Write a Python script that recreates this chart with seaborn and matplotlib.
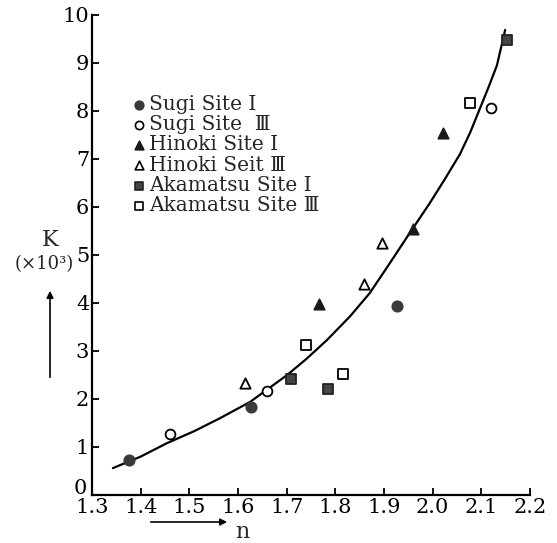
import matplotlib
matplotlib.use("Agg")
import matplotlib.pyplot as plt
import matplotlib.transforms as mtransforms
import seaborn as sns
import pandas as pd

# ---- data ----
sugi1_n = [1.375, 1.627, 1.927]
sugi1_k = [0.72, 1.83, 3.94]
sugi3_n = [1.460, 1.660, 2.120]
sugi3_k = [1.27, 2.17, 8.06]
hinoki1_n = [1.766, 1.960, 2.021]
hinoki1_k = [3.98, 5.54, 7.54]
hinoki3_n = [1.614, 1.859, 1.896]
hinoki3_k = [2.33, 4.40, 5.25]
aka1_n = [1.709, 1.785, 2.153]
aka1_k = [2.42, 2.21, 9.48]
aka3_n = [1.740, 1.815, 2.077]
aka3_k = [3.12, 2.52, 8.17]

curve_n = [1.343, 1.400, 1.454, 1.510, 1.563, 1.625, 1.701, 1.740, 1.783, 1.830,
           1.871, 1.910, 1.953, 1.994, 2.025, 2.056, 2.077, 2.097, 2.115, 2.132, 2.149]
curve_k = [0.56, 0.80, 1.08, 1.33, 1.60, 1.94, 2.50, 2.83, 3.23, 3.72,
           4.21, 4.80, 5.46, 6.08, 6.58, 7.10, 7.55, 8.05, 8.50, 8.95, 9.69]

labels = ["Sugi Site Ⅰ", "Sugi Site  Ⅲ", "Hinoki Site Ⅰ", "Hinoki Seit Ⅲ",
          "Akamatsu Site Ⅰ", "Akamatsu Site Ⅲ"]
x_ticks = [1.3, 1.4, 1.5, 1.6, 1.7, 1.8, 1.9, 2.0, 2.1, 2.2]
x_ticklabels = ["1.3", "1.4", "1.5", "1.6", "1.7", "1.8", "1.9", "2.0", "2.1", "2.2"]
y_ticks = list(range(0, 11))

sns.set_style("ticks")
fam = ["DejaVu Serif", "Noto Sans CJK JP"]
plt.rcParams["font.family"] = fam

fig = plt.figure(figsize=(5.57, 5.43), dpi=100)
ax = fig.add_axes([92 / 557, 48 / 543, 438 / 557, 480 / 543])

dark = "#3a3a3a"
series = [
    (sugi1_n, sugi1_k, "o", dark, dark, 55),
    (sugi3_n, sugi3_k, "o", "white", "black", 50),
    (hinoki1_n, hinoki1_k, "^", "#1a1a1a", "#1a1a1a", 55),
    (hinoki3_n, hinoki3_k, "^", "white", "black", 55),
    (aka1_n, aka1_k, "s", "#444444", "#222222", 55),
    (aka3_n, aka3_k, "s", "white", "black", 50),
]

curve_df = pd.DataFrame({"n": curve_n, "K": curve_k})
sns.lineplot(data=curve_df, x="n", y="K", sort=False, color="black", lw=1.6, ax=ax, zorder=2)

handles = []
for (xs, ys, m, fc, ec, s), lab in zip(series, labels):
    df = pd.DataFrame({"n": xs, "K": ys})
    sns.scatterplot(data=df, x="n", y="K", marker=m, s=s, color=fc, edgecolor=ec,
                    linewidth=1.3, ax=ax, zorder=3)
    h = ax.scatter([], [], marker=m, s=s * 0.7, facecolor=fc, edgecolor=ec, linewidth=1.2)
    handles.append(h)

ax.set_xlim(1.3, 2.2)
ax.set_ylim(0, 10)
ax.set_xticks(x_ticks)
ax.set_xticklabels(x_ticklabels)
ax.set_yticks(y_ticks)
ax.set_xlabel("")
ax.set_ylabel("")
sns.despine(ax=ax)
for sp in ["left", "bottom"]:
    ax.spines[sp].set_linewidth(1.6)
    ax.spines[sp].set_color("black")
ax.tick_params(direction="in", length=5, width=1.3, labelsize=15, colors="black", pad=2)
for t in ax.get_xticklabels() + ax.get_yticklabels():
    t.set_family(fam)
# nudge the "0" y tick label up-left so it sits above the 1.3 label, as in the reference
zero_lab = ax.get_yticklabels()[0]
zero_lab.set_transform(zero_lab.get_transform() +
                       mtransforms.ScaledTranslation(-2 / 100, 8 / 100, fig.dpi_scale_trans))

leg = ax.legend(handles, labels, loc="upper left", bbox_to_anchor=(0.065, 0.85),
                frameon=False, handletextpad=0.0, labelspacing=0.06,
                handlelength=1.0, borderaxespad=0, prop={"family": fam, "size": 14.5})

# axis labels with arrows
fig.text(50 / 557, 1 - 240 / 543, "K", ha="center", va="center", fontsize=16, family=fam)
fig.text(44 / 557, 1 - 264 / 543, "(×10³)", ha="center", va="center", fontsize=13, family=fam)
fig.patches.append(matplotlib.patches.FancyArrowPatch(
    (50 / 557, 1 - 380 / 543), (50 / 557, 1 - 288 / 543), transform=fig.transFigure,
    arrowstyle="-|>", mutation_scale=10, lw=1.2, color="black"))
fig.patches.append(matplotlib.patches.FancyArrowPatch(
    (148 / 557, 1 - 522 / 543), (230 / 557, 1 - 522 / 543), transform=fig.transFigure,
    arrowstyle="-|>", mutation_scale=10, lw=1.2, color="black"))
fig.text(242 / 557, 1 - 532 / 543, "n", ha="center", va="center", fontsize=16, family=fam)

fig.savefig("out.png", dpi=100)
